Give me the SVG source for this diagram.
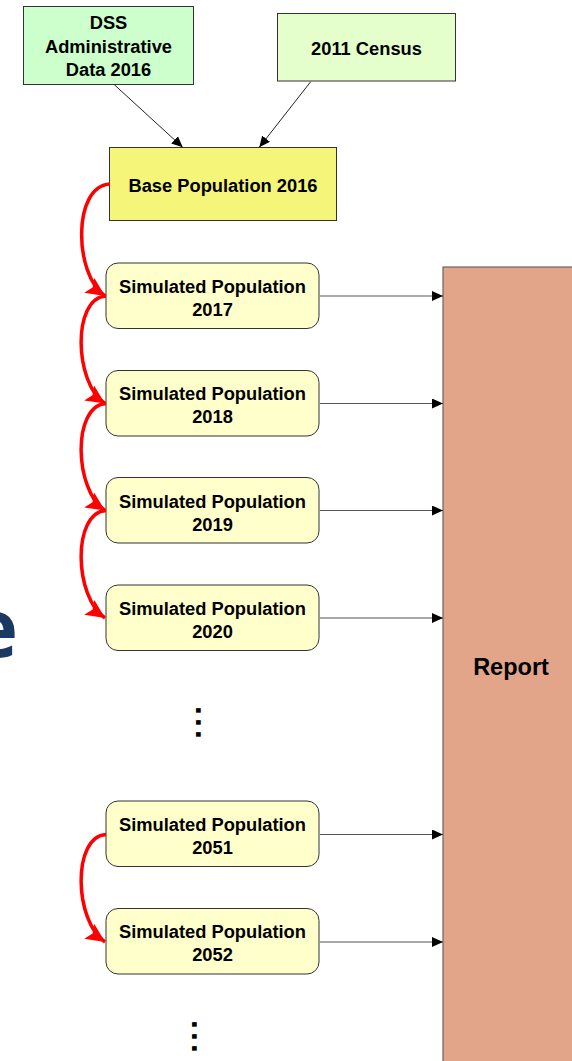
<svg xmlns="http://www.w3.org/2000/svg" width="572" height="1061" viewBox="0 0 572 1061">
<style>
.t{font-family:"Liberation Sans",Arial,sans-serif;font-weight:bold;font-size:18.3px;fill:#000;text-anchor:middle}
.sim{fill:#FFFFCC;stroke:#333;stroke-width:1}
.blk{stroke:#222;stroke-width:1;fill:none}
.hz{stroke:#555;stroke-width:1.2;fill:none}
.red{stroke:#FF0000;stroke-width:3.5;fill:none}
.dots{font-family:"Liberation Sans",Arial,sans-serif;font-weight:bold;font-size:32px;fill:#000;letter-spacing:3.1px}
</style>
<defs>
<marker id="ab" markerUnits="userSpaceOnUse" markerWidth="12" markerHeight="10" refX="11" refY="5" orient="auto">
<path d="M0,0 L11,5 L0,10 Z" fill="#000"/>
</marker>
<marker id="ar" markerUnits="userSpaceOnUse" markerWidth="20" markerHeight="18" refX="19" refY="9" orient="auto">
<path d="M0,0 L19,9 L0,18 L4,9 Z" fill="#FF0000"/>
</marker>
</defs>
<rect width="572" height="1061" fill="#fff"/>
<text x="18" y="657" style="font-family:'Open Sans','Noto Sans',sans-serif;font-weight:bold;font-size:80px;fill:#1B3A63;text-anchor:end">e</text>

<g id="report">
<rect x="443" y="267" width="140" height="810" fill="#E3A58A" stroke="#666" stroke-width="1.2"/>
<text class="t" x="511" y="675" style="font-size:23.5px">Report</text>
</g>

<g id="dss">
<rect x="23.5" y="6.5" width="170" height="78" fill="#CCFFCC" stroke="#333"/>
<text class="t" x="108.5" y="29">DSS</text>
<text class="t" x="108.5" y="53">Administrative</text>
<text class="t" x="108.5" y="76">Data 2016</text>
</g>
<g id="census">
<rect x="277.5" y="13.5" width="178" height="67.5" fill="#E5FFCC" stroke="#333"/>
<text class="t" x="366.5" y="55">2011 Census</text>
</g>
<g id="base">
<rect x="109.5" y="147.5" width="227" height="73" fill="#F5F57A" stroke="#333"/>
<text class="t" x="223" y="192">Base Population 2016</text>
</g>

<g id="sim2017"><rect class="sim" x="106" y="263" width="213" height="65.5" rx="12"/><text class="t" x="212.5" y="292.5">Simulated Population</text><text class="t" x="212.5" y="315.5">2017</text></g>
<g id="sim2018"><rect class="sim" x="106" y="370.5" width="213" height="65.5" rx="12"/><text class="t" x="212.5" y="400">Simulated Population</text><text class="t" x="212.5" y="423">2018</text></g>
<g id="sim2019"><rect class="sim" x="106" y="477.5" width="213" height="65.5" rx="12"/><text class="t" x="212.5" y="507.5">Simulated Population</text><text class="t" x="212.5" y="530.5">2019</text></g>
<g id="sim2020"><rect class="sim" x="106" y="585" width="213" height="65.5" rx="12"/><text class="t" x="212.5" y="614.5">Simulated Population</text><text class="t" x="212.5" y="637.5">2020</text></g>
<g id="sim2051"><rect class="sim" x="106" y="801" width="213" height="65.5" rx="12"/><text class="t" x="212.5" y="830.5">Simulated Population</text><text class="t" x="212.5" y="853.5">2051</text></g>
<g id="sim2052"><rect class="sim" x="106" y="908.5" width="213" height="65.5" rx="12"/><text class="t" x="212.5" y="938">Simulated Population</text><text class="t" x="212.5" y="961">2052</text></g>

<text class="dots" x="195.5" y="706" transform="rotate(90 195.5 706)">...</text>
<text class="dots" x="191.5" y="1020" transform="rotate(90 191.5 1020)">...</text>

<g id="connectors">
<path class="blk" d="M114.3,84.7 L182.7,147.3" marker-end="url(#ab)"/>
<path class="blk" d="M310.7,81.7 L259.3,147.3" marker-end="url(#ab)"/>
<path class="hz" d="M320,296 L443,296" marker-end="url(#ab)"/>
<path class="hz" d="M320,403.5 L443,403.5" marker-end="url(#ab)"/>
<path class="hz" d="M320,510.5 L443,510.5" marker-end="url(#ab)"/>
<path class="hz" d="M320,618 L443,618" marker-end="url(#ab)"/>
<path class="hz" d="M320,834.5 L443,834.5" marker-end="url(#ab)"/>
<path class="hz" d="M320,942 L443,942" marker-end="url(#ab)"/>
<path class="red" d="M110,184 C72,186 74,275 105,296" marker-end="url(#ar)"/>
<path class="red" d="M106,296 C72,298 74,383 105,403.5" marker-end="url(#ar)"/>
<path class="red" d="M106,403.5 C72,405.5 74,490 105,510.5" marker-end="url(#ar)"/>
<path class="red" d="M106,510.5 C72,512.5 74,597 105,618" marker-end="url(#ar)"/>
<path class="red" d="M106,834.5 C72,836.5 74,921 105,942" marker-end="url(#ar)"/>
</g>
</svg>
